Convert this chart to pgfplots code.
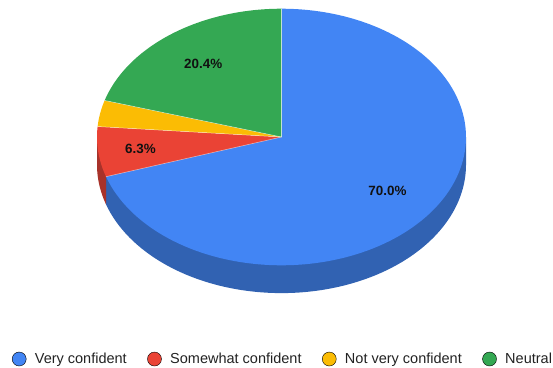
\documentclass[border=0pt]{standalone}
\usepackage{fontspec}
\setmainfont{Liberation Sans}
\usepackage{pgfplots}
\pgfplotsset{compat=1.18}
\usepackage{pgfplotstable}

% slice colours: top face and darker side wall
\definecolor{vcTop}{HTML}{4285F4}
\definecolor{vcSide}{HTML}{3162B2}
\definecolor{scTop}{HTML}{EA4335}
\definecolor{scSide}{HTML}{A8322A}
\definecolor{nvTop}{HTML}{FBBC04}
\definecolor{nvSide}{HTML}{B98A03}
\definecolor{neTop}{HTML}{34A853}
\definecolor{neSide}{HTML}{267C3D}
\definecolor{legendText}{HTML}{222222}
\definecolor{labelText}{HTML}{111111}

% pie geometry in axis units
\def\cx{281.5}
\def\cy{137}
\def\rx{184.5}
\def\ry{128.3}
\def\dep{27.8}

\pgfplotstableread[col sep=comma]{
label,value,top,side,labpos
Very confident,70.0,vcTop,vcSide,0.71
Somewhat confident,6.3,scTop,scSide,0.77
Not very confident,3.3,nvTop,nvSide,0
Neutral,20.4,neTop,neSide,0.71
}\piedata

% start/end angles (clockwise from 12 o'clock) of every slice
\pgfplotstablegetrowsof{\piedata}
\pgfmathtruncatemacro\lastrow{\pgfplotsretval-1}
\gdef\cumul{0}
\pgfplotsforeachungrouped \i in {0,...,\lastrow}{%
  \pgfplotstablegetelem{\i}{value}\of\piedata
  \expandafter\xdef\csname pv\i\endcsname{\pgfplotsretval}%
  \pgfmathsetmacro\tmpa{\cumul*3.6}%
  \pgfmathsetmacro\tmpc{\cumul+\pgfplotsretval}%
  \xdef\cumul{\tmpc}%
  \pgfmathsetmacro\tmpb{\cumul*3.6}%
  \expandafter\xdef\csname pa\i\endcsname{\tmpa}%
  \expandafter\xdef\csname pb\i\endcsname{\tmpb}%
  \pgfplotstablegetelem{\i}{label}\of\piedata
  \expandafter\xdef\csname pl\i\endcsname{\pgfplotsretval}%
  \pgfplotstablegetelem{\i}{top}\of\piedata
  \expandafter\xdef\csname pc\i\endcsname{\pgfplotsretval}%
  \pgfplotstablegetelem{\i}{side}\of\piedata
  \expandafter\xdef\csname ps\i\endcsname{\pgfplotsretval}%
  \pgfplotstablegetelem{\i}{labpos}\of\piedata
  \expandafter\xdef\csname pf\i\endcsname{\pgfplotsretval}%
}

\begin{document}
\begin{tikzpicture}
\begin{axis}[
  scale only axis, width=553pt, height=367pt,
  xmin=0, xmax=553, ymin=0, ymax=367, y dir=reverse,
  hide axis, clip=false,
  legend columns=-1,
  legend style={
    draw=none, fill=none, inner xsep=0pt, inner ysep=0pt,
    at={(axis cs:11.8,359)}, anchor=west,
    font=\fontsize{14.5}{17}\selectfont, text=legendText,
    nodes={inner sep=0pt, anchor=base west},
    /tikz/every odd column/.append style={column sep=8.5pt},
    /tikz/every even column/.append style={column sep=20.5pt},
  },
  legend image code/.code={\fill[#1] (0pt,4.5pt) circle[radius=7pt];},
]
% side walls of the front half
\pgfplotsforeachungrouped \i in {0,...,\lastrow}{%
  \pgfmathsetmacro\sa{max(\csname pa\i\endcsname,90)}%
  \pgfmathsetmacro\sb{min(\csname pb\i\endcsname,270)}%
  \ifdim\sa pt<\sb pt
    \pgfmathsetmacro\xa{\cx+\rx*sin(\sa)}%
    \pgfmathsetmacro\ya{\cy-\ry*cos(\sa)}%
    \pgfmathsetmacro\xb{\cx+\rx*sin(\sb)}%
    \pgfmathsetmacro\yb{\cy-\ry*cos(\sb)}%
    \edef\cmd{\noexpand\addplot[fill=\csname ps\i\endcsname, draw=none,
      domain=\sa:\sb, samples=120, forget plot]
      ({\cx+\rx*sin(x)}, {\cy+\dep-\ry*cos(x)})
      -- (axis cs:\xb,\yb) -- (axis cs:\cx,\cy) -- (axis cs:\xa,\ya) -- cycle;}%
    \cmd
  \fi
}
% top faces
\pgfplotsforeachungrouped \i in {0,...,\lastrow}{%
  \edef\cmd{\noexpand\addplot[fill=\csname pc\i\endcsname, draw=none,
    domain=\csname pa\i\endcsname:\csname pb\i\endcsname, samples=150, forget plot]
    ({\cx+\rx*sin(x)}, {\cy-\ry*cos(x)}) -- (axis cs:\cx,\cy) -- cycle;}%
  \cmd
}
% thin separators between slices
\pgfplotsforeachungrouped \i in {0,...,\lastrow}{%
  \pgfmathsetmacro\xa{\cx+\rx*sin(\csname pa\i\endcsname)}%
  \pgfmathsetmacro\ya{\cy-\ry*cos(\csname pa\i\endcsname)}%
  \edef\cmd{\noexpand\addplot[white, opacity=0.6, line width=0.5pt, forget plot]
    coordinates {(\cx,\cy) (\xa,\ya)};}%
  \cmd
}
% percentage labels
\pgfplotsforeachungrouped \i in {0,...,\lastrow}{%
  \pgfmathsetmacro\f{\csname pf\i\endcsname}%
  \ifdim\f pt>0pt
    \pgfmathsetmacro\m{(\csname pa\i\endcsname+\csname pb\i\endcsname)/2}%
    \pgfmathsetmacro\lx{\cx+\f*\rx*sin(\m)}%
    \pgfmathsetmacro\ly{\cy-\f*\ry*cos(\m)}%
    \edef\cmd{\noexpand\node[font=\noexpand\bfseries\noexpand\fontsize{13.4}{16}\noexpand\selectfont,
      text=labelText, inner sep=0pt] at (axis cs:\lx,\ly)
      {\noexpand\pgfmathprintnumber[fixed,fixed zerofill,precision=1,assume math mode=true]{\csname pv\i\endcsname}\noexpand\%};}%
    \cmd
  \fi
}
% legend
\pgfplotsforeachungrouped \i in {0,...,\lastrow}{%
  \edef\cmd{\noexpand\addlegendimage{fill=\csname pc\i\endcsname}%
    \noexpand\addlegendentry{\csname pl\i\endcsname}}%
  \cmd
}
\end{axis}
\pgfresetboundingbox
\path (current axis.south west) rectangle (current axis.north east);
\end{tikzpicture}
\end{document}
